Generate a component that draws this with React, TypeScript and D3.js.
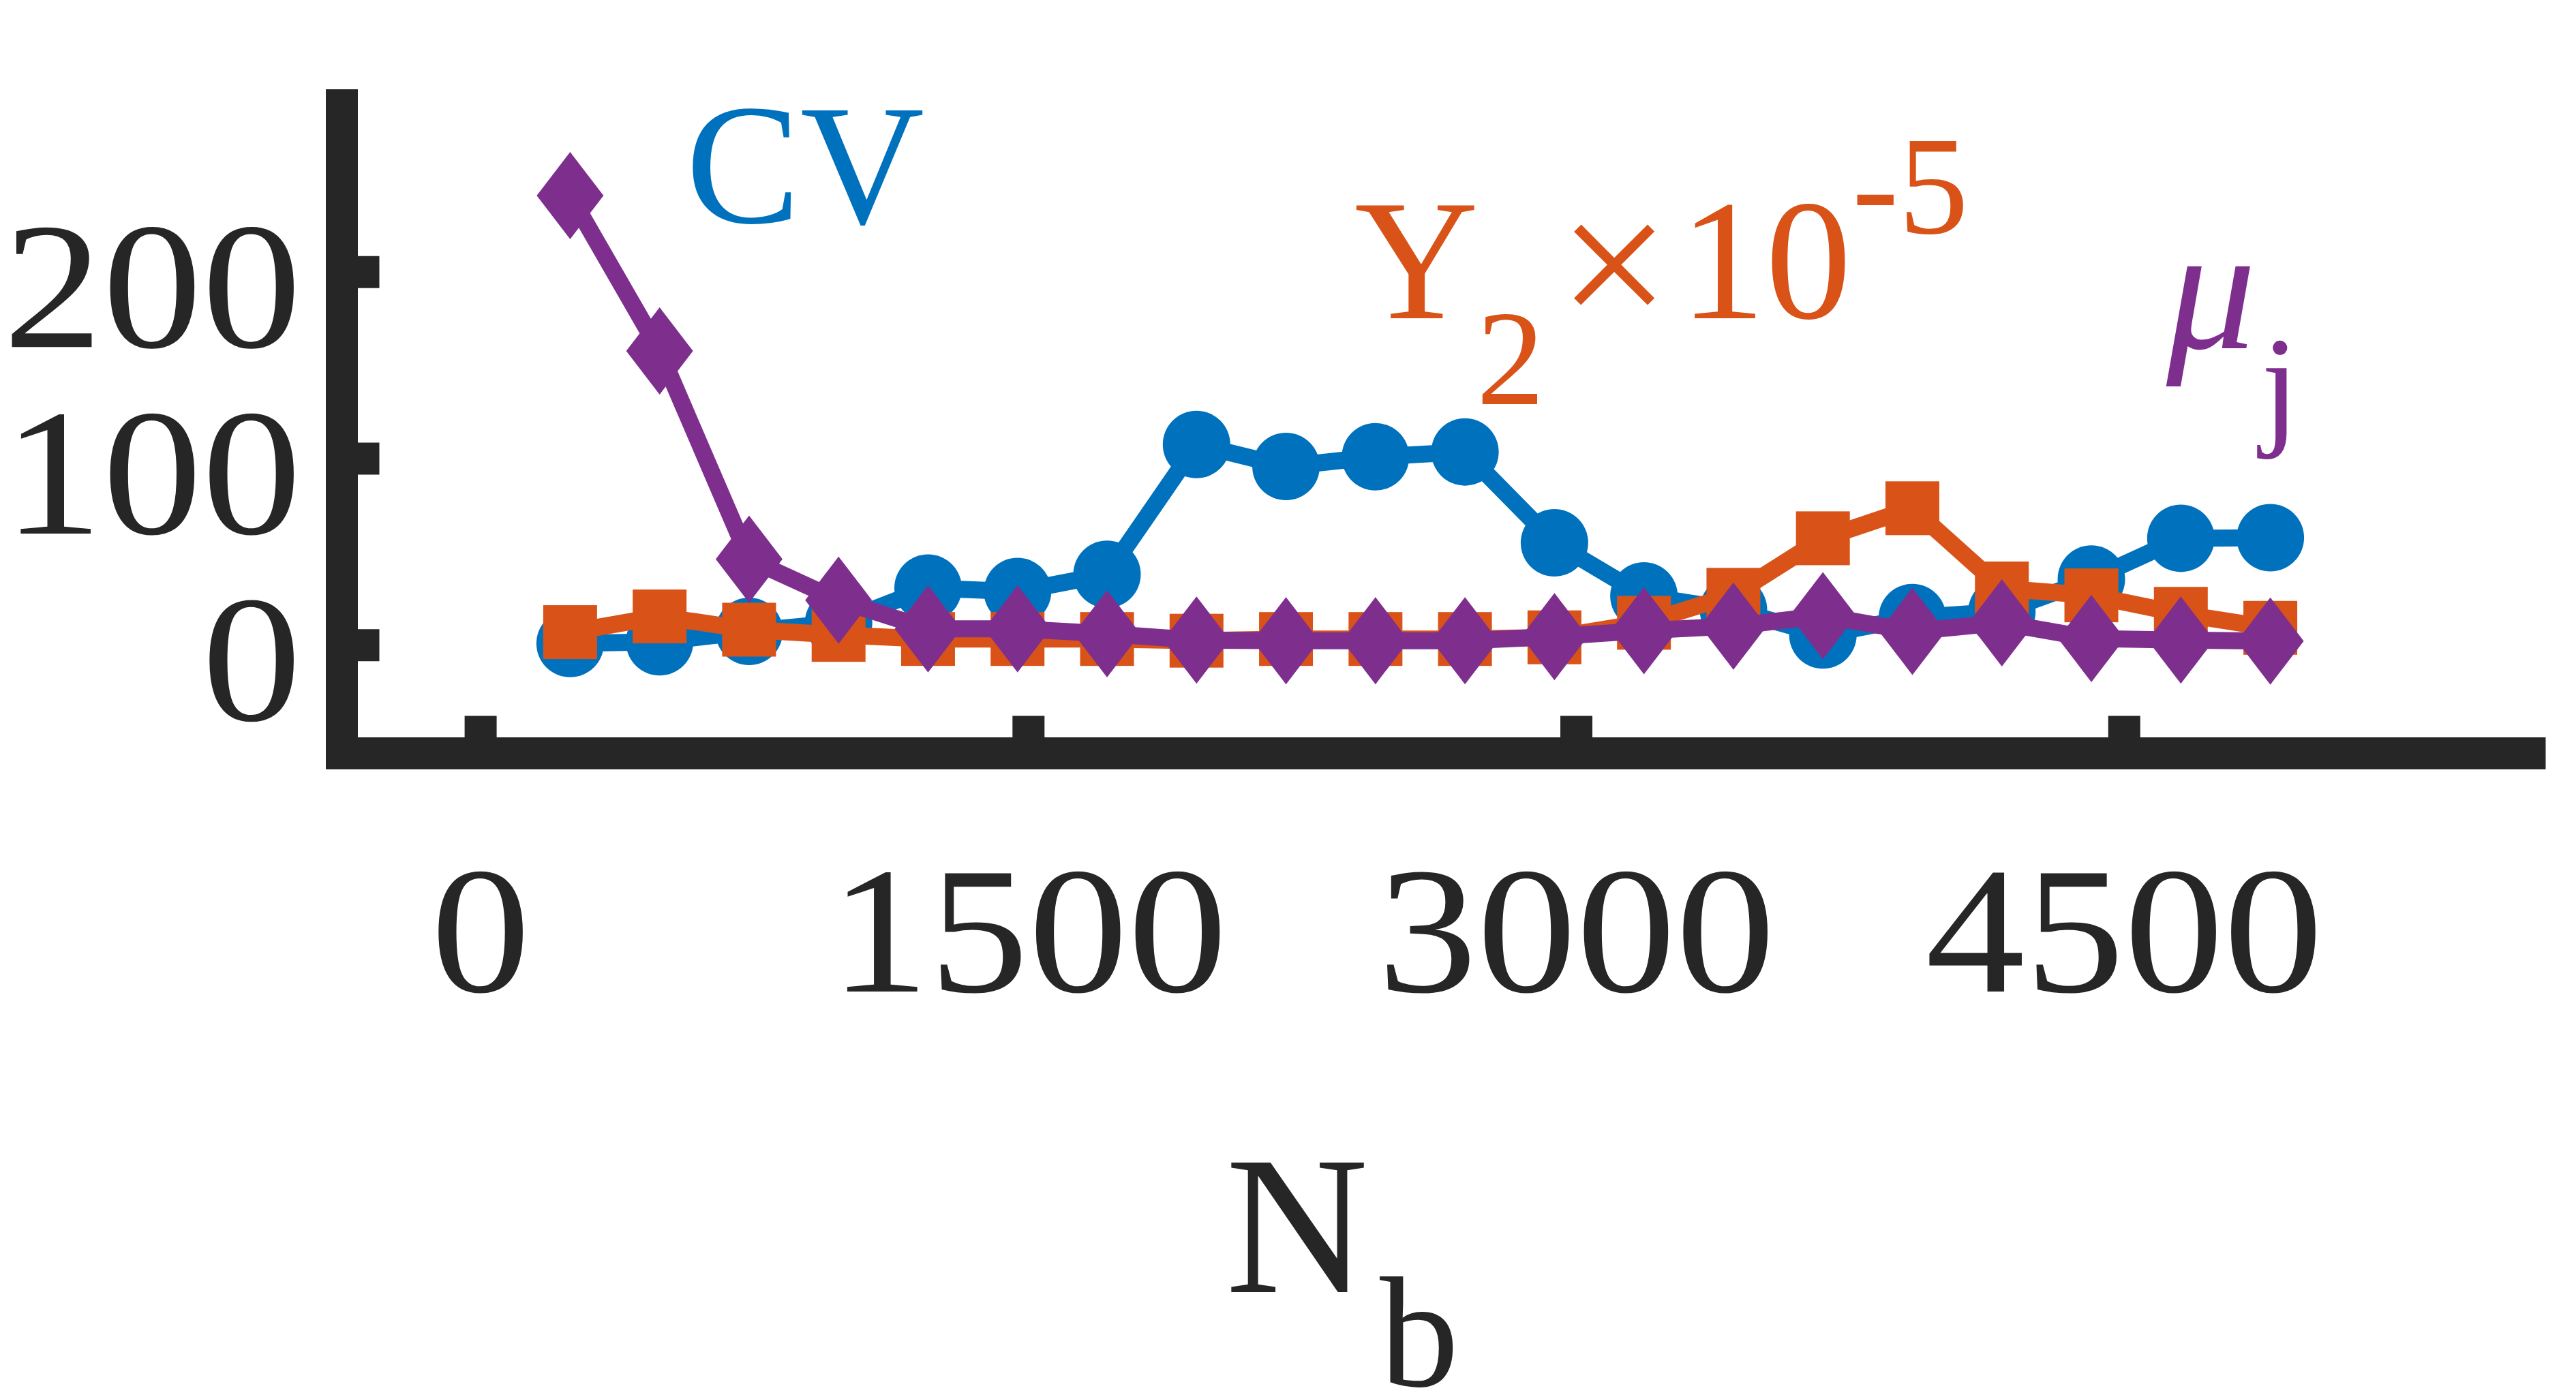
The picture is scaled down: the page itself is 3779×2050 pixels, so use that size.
import React from "react";
import * as d3 from "d3";

const NB = [245, 490, 735, 980, 1225, 1470, 1715, 1960, 2205, 2450, 2695, 2940, 3185, 3430, 3675, 3920, 4165, 4410, 4655, 4900];
const CV = [0.9, 1.8, 7.4, 12, 30.6, 28.8, 38, 107.6, 95.8, 101, 103.6, 54.9, 26.4, 19, 5.5, 14.8, 18, 35.4, 57.3, 57.6];
const Y2 = [7, 15.4, 8.3, 5.5, 3.3, 3.3, 3.3, 2.4, 3.3, 3.3, 3.3, 4.2, 12, 27, 57.3, 73.4, 30.4, 26.7, 16.8, 9.3];
const MU = [241, 157.7, 46.1, 24.1, 8.8, 8.8, 6.1, 2.7, 2.4, 2.4, 2.4, 4.6, 7.8, 10.2, 15.8, 7.4, 12, 3.6, 2.7, 2.2];
const X_TICKS = [0, 1500, 3000, 4500];
const Y_TICKS = [0, 100, 200];

const W = 3779;
const H = 2050;
const AX = "#262626";
const BLUE = "#0072BD";
const ORANGE = "#D95319";
const PURPLE = "#7E2F8E";
const FONT = "Liberation Serif";

const x = d3.scaleLinear().domain([-380, 5610]).range([501.5, 3711]);
const y = d3.scaleLinear().domain([-58, 298]).range([1105.5, 131]);

const AXW = 47;
const LW = 25;

function lineFor(vals: number[]) {
  return d3
    .line<number>()
    .x((_, i) => x(NB[i]))
    .y((v) => y(v))(vals) as string;
}

export default function App() {
  const [x0, x1] = x.range();
  const [yb, yt] = y.range();
  return (
    <svg
      width={W}
      height={H}
      viewBox={`0 0 ${W} ${H}`}
      style={{ position: "absolute", left: 0, top: 0, background: "#fff" }}
    >
      <rect width={W} height={H} fill="#fff" />
      {/* series: CV */}
      <path d={lineFor(CV)} fill="none" stroke={BLUE} strokeWidth={LW} strokeLinejoin="round" />
      {CV.map((v, i) => (
        <circle key={"c" + i} cx={x(NB[i])} cy={y(v)} r={49.5} fill={BLUE} />
      ))}
      {/* series: Y2 */}
      <path d={lineFor(Y2)} fill="none" stroke={ORANGE} strokeWidth={LW} strokeLinejoin="round" />
      {Y2.map((v, i) => (
        <rect key={"s" + i} x={x(NB[i]) - 39.5} y={y(v) - 39.5} width={79} height={79} fill={ORANGE} />
      ))}
      {/* series: mu */}
      <path d={lineFor(MU)} fill="none" stroke={PURPLE} strokeWidth={LW} strokeLinejoin="round" />
      {MU.map((v, i) => {
        const cx = x(NB[i]);
        const cy = y(v);
        return (
          <path
            key={"d" + i}
            d={`M${cx},${cy - 64}L${cx + 49},${cy}L${cx},${cy + 64}L${cx - 49},${cy}Z`}
            fill={PURPLE}
          />
        );
      })}

      {/* axes */}
      <line x1={x0} x2={x0} y1={yt} y2={yb + AXW / 2} stroke={AX} strokeWidth={AXW} />
      <line x1={x0 - AXW / 2} x2={x1 + AXW / 2} y1={yb} y2={yb} stroke={AX} strokeWidth={AXW} />
      {Y_TICKS.map((t) => (
        <line key={"yt" + t} x1={x0} x2={x0 + 55} y1={y(t)} y2={y(t)} stroke={AX} strokeWidth={AXW} />
      ))}
      {X_TICKS.map((t) => (
        <line key={"xt" + t} x1={x(t)} x2={x(t)} y1={yb} y2={yb - 55} stroke={AX} strokeWidth={AXW} />
      ))}

      {/* tick labels */}
      {Y_TICKS.map((t) => (
        <text
          key={"yl" + t}
          transform={`translate(442,${y(t) + 110}) scale(1.1,1)`}
          textAnchor="end"
          fontFamily={FONT}
          fontSize={265}
          fill={AX}
        >
          {t}
        </text>
      ))}
      {X_TICKS.map((t) => (
        <text
          key={"xl" + t}
          transform={`translate(${x(t)},1455) scale(1.1,1)`}
          textAnchor="middle"
          fontFamily={FONT}
          fontSize={265}
          fill={AX}
        >
          {t}
        </text>
      ))}

      {/* axis label N_b */}
      <text x={1798} y={1896} fontFamily={FONT} fontSize={290} fill={AX}>N</text>
      <text x={2024} y={2034} fontFamily={FONT} fontSize={232} fill={AX}>b</text>

      {/* annotations */}
      <text x={1006} y={327} fontFamily={FONT} fontSize={252} fill={BLUE}>CV</text>

      <text x={1987} y={467} fontFamily={FONT} fontSize={252} fill={ORANGE}>Y</text>
      <text x={2166} y={593} fontFamily={FONT} fontSize={200} fill={ORANGE}>2</text>
      <text x={2368} y={485} textAnchor="middle" fontFamily={FONT} fontSize={290} fill={ORANGE}>×</text>
      <text x={2464} y={467} fontFamily={FONT} fontSize={252} fill={ORANGE}>10</text>
      <text x={2717} y={342} fontFamily={FONT} fontSize={205} fill={ORANGE}>-5</text>

      <text x={3178} y={511} fontFamily={FONT} fontStyle="italic" fontSize={262} fill={PURPLE}>μ</text>
      <text x={3317} y={632} fontFamily={FONT} fontSize={200} fill={PURPLE}>j</text>
    </svg>
  );
}
